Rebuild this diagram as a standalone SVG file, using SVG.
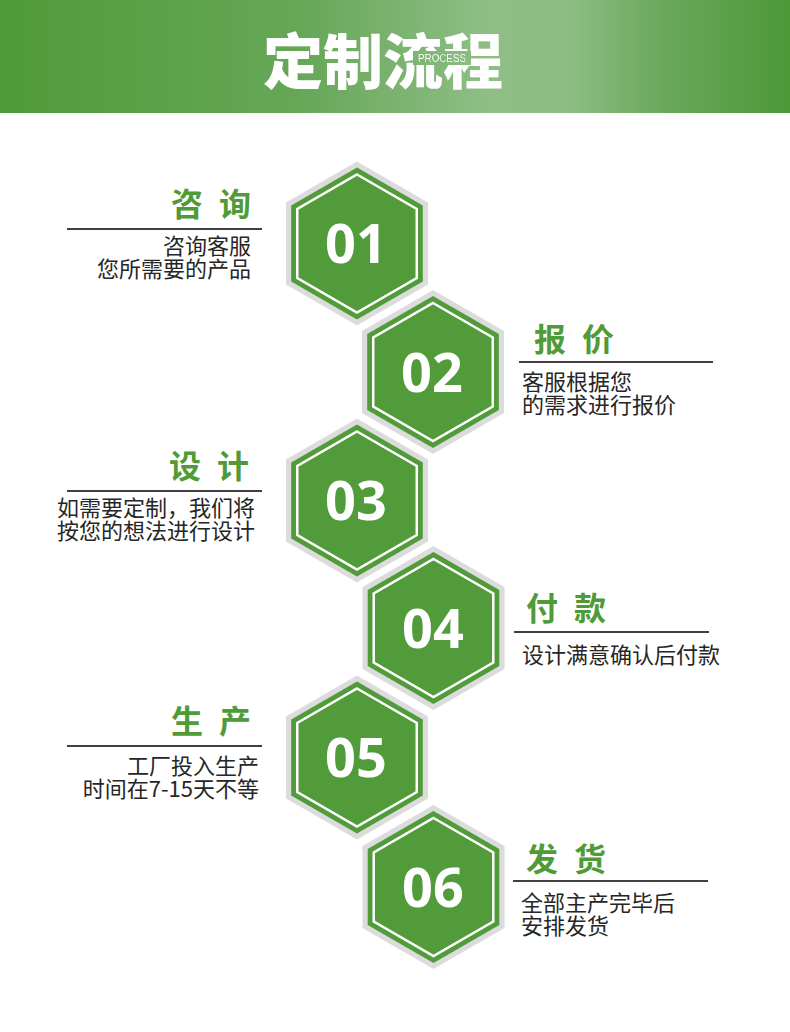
<svg xmlns="http://www.w3.org/2000/svg" xmlns:xlink="http://www.w3.org/1999/xlink" width="790" height="1032" viewBox="0 0 790 1032">
<style>
.hdr{font-family:"Noto Sans CJK SC","Noto Sans",sans-serif;font-weight:900;font-size:60px;fill:#fff}
.proc{font-family:"Liberation Sans",Arial,sans-serif;font-weight:400;font-size:10px;fill:#fff}
.num{font-family:"Open Sans","Liberation Sans",sans-serif;font-weight:700;font-size:54px;fill:#fff;text-anchor:middle}
.ttl{font-family:"Noto Sans CJK SC","Noto Sans",sans-serif;font-weight:700;font-size:32px;fill:#4f9b38}
.dsc{font-family:"Noto Sans CJK SC","Noto Sans",sans-serif;font-weight:400;font-size:22px;fill:#262626}
.rule{stroke:#404040;stroke-width:2}
.L{text-anchor:end}
</style>
<defs>
<linearGradient id="hg" gradientUnits="userSpaceOnUse" x1="0" y1="0" x2="790" y2="0">
<stop offset="0" stop-color="#4f9a3a"/>
<stop offset="0.38" stop-color="#66a757"/>
<stop offset="0.62" stop-color="#8fbe86"/>
<stop offset="0.72" stop-color="#8dbd83"/>
<stop offset="0.84" stop-color="#69a85b"/>
<stop offset="1" stop-color="#4d9838"/>
</linearGradient>
<mask id="gap" maskUnits="userSpaceOnUse" x="0" y="0" width="790" height="113">
<rect x="0" y="0" width="790" height="113" fill="#fff"/>
<rect x="413" y="51" width="58" height="14" fill="#000"/>
<text class="proc" x="418" y="62" textLength="48" lengthAdjust="spacingAndGlyphs">PROCESS</text>
</mask>
<g id="hex">
<polygon points="0,-82 71.01,-41 71.01,41 0,82 -71.01,41 -71.01,-41" fill="#dcdcdc"/>
<polygon points="0,-76 65.82,-38 65.82,38 0,76 -65.82,38 -65.82,-38" fill="#529b3a"/>
<polygon points="0,-69 59.76,-34.5 59.76,34.5 0,69 -59.76,34.5 -59.76,-34.5" fill="none" stroke="#fff" stroke-width="2.5"/>
</g>
</defs>
<rect width="790" height="1032" fill="#fff"/>
<g id="header">
<rect x="0" y="0" width="790" height="113" fill="url(#hg)"/>
<text mask="url(#gap)" x="383" y="84" text-anchor="middle"><tspan class="hdr">定制流程</tspan><tspan class="proc" x="418" y="62" text-anchor="start" textLength="48" lengthAdjust="spacingAndGlyphs">PROCESS</tspan></text>
</g>
<g id="step01">
<use xlink:href="#hex" x="357" y="243.5"/>
<text class="num" x="356" y="263">01</text>
<text class="ttl L" x="251" y="216" textLength="80" lengthAdjust="spacing">咨 询</text>
<line class="rule" x1="67" y1="229" x2="262" y2="229"/>
<text class="dsc L"><tspan x="251" y="254">咨询客服</tspan><tspan x="251" y="277">您所需要的产品</tspan></text>
</g>
<g id="step02">
<use xlink:href="#hex" x="433" y="372"/>
<text class="num" x="432" y="392">02</text>
<text class="ttl" x="534" y="351" textLength="80" lengthAdjust="spacing">报 价</text>
<line class="rule" x1="519" y1="362" x2="713" y2="362"/>
<text class="dsc"><tspan x="522" y="390">客服根据您</tspan><tspan x="522" y="413">的需求进行报价</tspan></text>
</g>
<g id="step03">
<use xlink:href="#hex" x="357" y="500.5"/>
<text class="num" x="356" y="520">03</text>
<text class="ttl L" x="249" y="478" textLength="80" lengthAdjust="spacing">设 计</text>
<line class="rule" x1="67" y1="491" x2="262" y2="491"/>
<text class="dsc L"><tspan x="255" y="516">如需要定制，我们将</tspan><tspan x="255" y="539">按您的想法进行设计</tspan></text>
</g>
<g id="step04">
<use xlink:href="#hex" x="433.5" y="628"/>
<text class="num" x="433" y="648">04</text>
<text class="ttl" x="526" y="620" textLength="80" lengthAdjust="spacing">付 款</text>
<line class="rule" x1="514" y1="632" x2="709" y2="632"/>
<text class="dsc" x="522" y="663">设计满意确认后付款</text>
</g>
<g id="step05">
<use xlink:href="#hex" x="357" y="757.5"/>
<text class="num" x="356" y="777">05</text>
<text class="ttl L" x="251" y="733" textLength="80" lengthAdjust="spacing">生 产</text>
<line class="rule" x1="67" y1="746" x2="262" y2="746"/>
<text class="dsc L"><tspan x="259" y="774">工厂投入生产</tspan><tspan x="259" y="797">时间在7-15天不等</tspan></text>
</g>
<g id="step06">
<use xlink:href="#hex" x="433.5" y="887"/>
<text class="num" x="433" y="907">06</text>
<text class="ttl" x="526" y="871" textLength="80" lengthAdjust="spacing">发 货</text>
<line class="rule" x1="513" y1="881" x2="708" y2="881"/>
<text class="dsc"><tspan x="521" y="911">全部主产完毕后</tspan><tspan x="521" y="934">安排发货</tspan></text>
</g>
</svg>
